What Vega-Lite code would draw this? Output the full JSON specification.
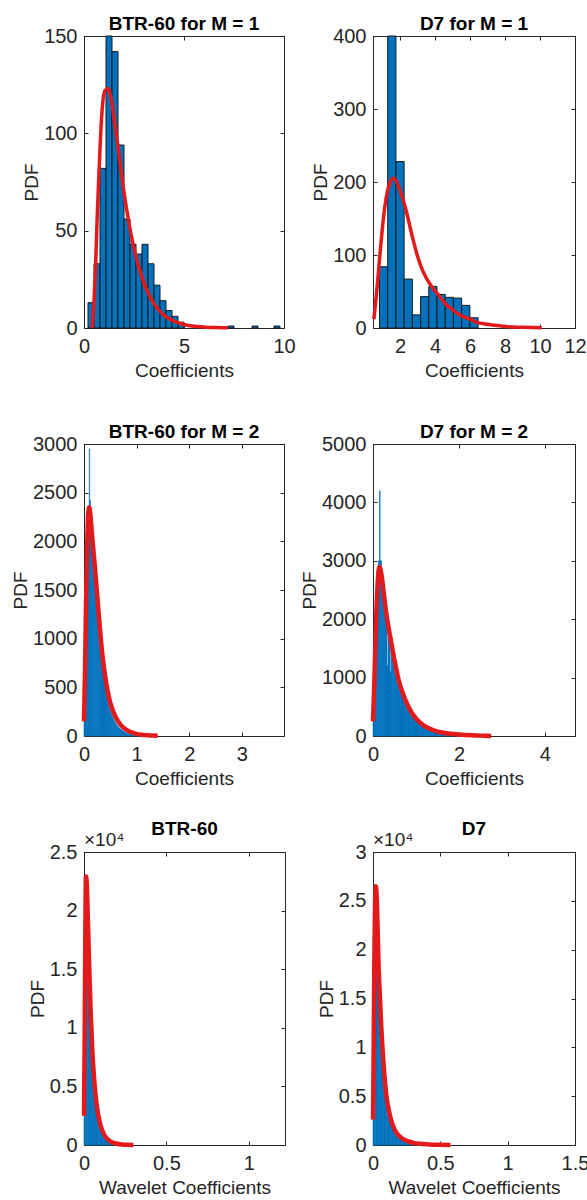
{
  "$schema": "https://vega.github.io/schema/vega-lite/v6.json",
  "background": "white",
  "padding": {"left": 11, "top": 14, "right": 5, "bottom": 0},
  "config": {
    "view": {"stroke": "#262626", "strokeWidth": 1},
    "axis": {
      "grid": false,
      "labelFont": "Liberation Sans",
      "labelFontSize": 20,
      "labelColor": "#262626",
      "titleFont": "Liberation Sans",
      "titleFontSize": 19,
      "titleFontWeight": "normal",
      "titleColor": "#262626",
      "domainColor": "#262626",
      "tickColor": "#262626",
      "tickSize": -4,
      "labelFlush": false,
      "labelOverlap": false
    },
    "axisX": {"labelPadding": 12, "titlePadding": 5},
    "axisY": {"labelPadding": 11, "titlePadding": 2},
    "title": {"font": "Liberation Sans", "fontSize": 19, "fontWeight": "bold", "color": "#000000", "offset": -8, "anchor": "middle"}
  },
  "columns": 2,
  "spacing": {"row": 116, "column": 88},
  "bounds": "flush",
  "datasets": {
    "h1": [
      {"x0": 0.2, "x1": 0.5, "pdf": 13}, {"x0": 0.5, "x1": 0.8, "pdf": 33}, {"x0": 0.8, "x1": 1.1, "pdf": 82},
      {"x0": 1.1, "x1": 1.4, "pdf": 150}, {"x0": 1.4, "x1": 1.7, "pdf": 142}, {"x0": 1.7, "x1": 2.0, "pdf": 94},
      {"x0": 2.0, "x1": 2.3, "pdf": 56}, {"x0": 2.3, "x1": 2.6, "pdf": 43}, {"x0": 2.6, "x1": 2.9, "pdf": 38},
      {"x0": 2.9, "x1": 3.2, "pdf": 43}, {"x0": 3.2, "x1": 3.5, "pdf": 33}, {"x0": 3.5, "x1": 3.8, "pdf": 22},
      {"x0": 3.8, "x1": 4.1, "pdf": 14}, {"x0": 4.1, "x1": 4.4, "pdf": 9}, {"x0": 4.4, "x1": 4.7, "pdf": 6},
      {"x0": 4.7, "x1": 5.0, "pdf": 3}, {"x0": 7.2, "x1": 7.5, "pdf": 1}, {"x0": 8.4, "x1": 8.7, "pdf": 1},
      {"x0": 9.5, "x1": 9.8, "pdf": 1}
    ],
    "c1": [
      {"x": 0.42, "pdf": 0}, {"x": 0.5, "pdf": 14}, {"x": 0.58, "pdf": 32}, {"x": 0.66, "pdf": 57}, {"x": 0.75, "pdf": 80},
      {"x": 0.85, "pdf": 103}, {"x": 0.95, "pdf": 117}, {"x": 1.05, "pdf": 122}, {"x": 1.2, "pdf": 123}, {"x": 1.35, "pdf": 118},
      {"x": 1.5, "pdf": 108}, {"x": 1.7, "pdf": 93}, {"x": 1.9, "pdf": 77}, {"x": 2.1, "pdf": 63}, {"x": 2.3, "pdf": 51},
      {"x": 2.5, "pdf": 41}, {"x": 2.75, "pdf": 31}, {"x": 3.0, "pdf": 23}, {"x": 3.25, "pdf": 17}, {"x": 3.5, "pdf": 12.5},
      {"x": 3.75, "pdf": 9}, {"x": 4.0, "pdf": 6.5}, {"x": 4.5, "pdf": 3.5}, {"x": 5.0, "pdf": 1.8}, {"x": 5.5, "pdf": 0.9},
      {"x": 6.0, "pdf": 0.5}, {"x": 6.5, "pdf": 0.2}, {"x": 7.2, "pdf": 0.1}
    ],
    "h2": [
      {"x0": 0.82, "x1": 1.29, "pdf": 84}, {"x0": 1.29, "x1": 1.76, "pdf": 400}, {"x0": 1.76, "x1": 2.23, "pdf": 228},
      {"x0": 2.23, "x1": 2.70, "pdf": 67}, {"x0": 2.70, "x1": 3.17, "pdf": 18}, {"x0": 3.17, "x1": 3.64, "pdf": 43},
      {"x0": 3.64, "x1": 4.11, "pdf": 57}, {"x0": 4.11, "x1": 4.58, "pdf": 46}, {"x0": 4.58, "x1": 5.05, "pdf": 42},
      {"x0": 5.05, "x1": 5.52, "pdf": 41}, {"x0": 5.52, "x1": 5.99, "pdf": 31}, {"x0": 5.99, "x1": 6.46, "pdf": 14}
    ],
    "c2": [
      {"x": 0.5, "pdf": 12}, {"x": 0.6, "pdf": 35}, {"x": 0.7, "pdf": 60}, {"x": 0.8, "pdf": 88}, {"x": 0.9, "pdf": 115},
      {"x": 1.0, "pdf": 140}, {"x": 1.2, "pdf": 178}, {"x": 1.4, "pdf": 198}, {"x": 1.6, "pdf": 205}, {"x": 1.8, "pdf": 200},
      {"x": 2.0, "pdf": 188}, {"x": 2.3, "pdf": 165}, {"x": 2.7, "pdf": 125}, {"x": 3.0, "pdf": 98}, {"x": 3.3, "pdf": 78},
      {"x": 3.8, "pdf": 57}, {"x": 4.1, "pdf": 48}, {"x": 4.6, "pdf": 33}, {"x": 5.0, "pdf": 25}, {"x": 5.4, "pdf": 18},
      {"x": 6.0, "pdf": 12}, {"x": 6.5, "pdf": 7}, {"x": 7.0, "pdf": 5}, {"x": 8.0, "pdf": 2}, {"x": 9.0, "pdf": 1}, {"x": 10.1, "pdf": 0.3}
    ],
    "h3": [
      {"x0": 0, "x1": 0.02, "pdf": 200}, {"x0": 0.02, "x1": 0.04, "pdf": 900}, {"x0": 0.04, "x1": 0.06, "pdf": 1500},
      {"x0": 0.06, "x1": 0.08, "pdf": 2000}, {"x0": 0.08, "x1": 0.1, "pdf": 2300}, {"x0": 0.1, "x1": 0.108, "pdf": 2950},
      {"x0": 0.108, "x1": 0.12, "pdf": 2420}, {"x0": 0.12, "x1": 0.14, "pdf": 2200}, {"x0": 0.14, "x1": 0.16, "pdf": 2050},
      {"x0": 0.16, "x1": 0.18, "pdf": 1900}, {"x0": 0.18, "x1": 0.2, "pdf": 1750}, {"x0": 0.2, "x1": 0.22, "pdf": 1600},
      {"x0": 0.22, "x1": 0.24, "pdf": 1450}, {"x0": 0.24, "x1": 0.26, "pdf": 1300}, {"x0": 0.26, "x1": 0.28, "pdf": 1160},
      {"x0": 0.28, "x1": 0.3, "pdf": 1030}, {"x0": 0.3, "x1": 0.32, "pdf": 910}, {"x0": 0.32, "x1": 0.34, "pdf": 800},
      {"x0": 0.34, "x1": 0.36, "pdf": 705}, {"x0": 0.36, "x1": 0.38, "pdf": 620}, {"x0": 0.38, "x1": 0.4, "pdf": 545},
      {"x0": 0.4, "x1": 0.42, "pdf": 480}, {"x0": 0.42, "x1": 0.44, "pdf": 420}, {"x0": 0.44, "x1": 0.46, "pdf": 368},
      {"x0": 0.46, "x1": 0.48, "pdf": 322}, {"x0": 0.48, "x1": 0.5, "pdf": 282}, {"x0": 0.5, "x1": 0.52, "pdf": 246},
      {"x0": 0.52, "x1": 0.54, "pdf": 215}, {"x0": 0.54, "x1": 0.56, "pdf": 188}, {"x0": 0.56, "x1": 0.58, "pdf": 164},
      {"x0": 0.58, "x1": 0.6, "pdf": 143}, {"x0": 0.6, "x1": 0.62, "pdf": 125}, {"x0": 0.62, "x1": 0.64, "pdf": 109},
      {"x0": 0.64, "x1": 0.66, "pdf": 95}, {"x0": 0.66, "x1": 0.68, "pdf": 83}, {"x0": 0.68, "x1": 0.7, "pdf": 72},
      {"x0": 0.7, "x1": 0.72, "pdf": 63}, {"x0": 0.72, "x1": 0.74, "pdf": 55}, {"x0": 0.74, "x1": 0.76, "pdf": 48},
      {"x0": 0.76, "x1": 0.78, "pdf": 42}, {"x0": 0.78, "x1": 0.8, "pdf": 36}, {"x0": 0.8, "x1": 0.85, "pdf": 28},
      {"x0": 0.85, "x1": 0.9, "pdf": 20}, {"x0": 0.9, "x1": 0.95, "pdf": 14}, {"x0": 0.95, "x1": 1.0, "pdf": 10},
      {"x0": 1.0, "x1": 1.1, "pdf": 6}, {"x0": 1.1, "x1": 1.2, "pdf": 3}
    ],
    "c3": [
      {"x": 0, "pdf": 150}, {"x": 0.02, "pdf": 700}, {"x": 0.04, "pdf": 1400}, {"x": 0.06, "pdf": 1950}, {"x": 0.08, "pdf": 2280},
      {"x": 0.1, "pdf": 2350}, {"x": 0.12, "pdf": 2280}, {"x": 0.15, "pdf": 2080}, {"x": 0.2, "pdf": 1780}, {"x": 0.25, "pdf": 1450},
      {"x": 0.3, "pdf": 1120}, {"x": 0.35, "pdf": 830}, {"x": 0.4, "pdf": 620}, {"x": 0.45, "pdf": 460}, {"x": 0.5, "pdf": 340},
      {"x": 0.6, "pdf": 195}, {"x": 0.7, "pdf": 112}, {"x": 0.8, "pdf": 65}, {"x": 0.9, "pdf": 38}, {"x": 1.0, "pdf": 22},
      {"x": 1.1, "pdf": 13}, {"x": 1.2, "pdf": 8}, {"x": 1.3, "pdf": 4}, {"x": 1.4, "pdf": 2}
    ],
    "h4": [
      {"x0": 0, "x1": 0.025, "pdf": 300}, {"x0": 0.025, "x1": 0.05, "pdf": 900}, {"x0": 0.05, "x1": 0.075, "pdf": 1600},
      {"x0": 0.075, "x1": 0.1, "pdf": 2200}, {"x0": 0.1, "x1": 0.125, "pdf": 2700}, {"x0": 0.125, "x1": 0.15, "pdf": 3000},
      {"x0": 0.15, "x1": 0.165, "pdf": 4200}, {"x0": 0.165, "x1": 0.2, "pdf": 3000}, {"x0": 0.2, "x1": 0.225, "pdf": 2800},
      {"x0": 0.225, "x1": 0.25, "pdf": 2600}, {"x0": 0.25, "x1": 0.275, "pdf": 2400}, {"x0": 0.275, "x1": 0.3, "pdf": 2200},
      {"x0": 0.3, "x1": 0.325, "pdf": 2000}, {"x0": 0.325, "x1": 0.35, "pdf": 1200}, {"x0": 0.35, "x1": 0.375, "pdf": 1800},
      {"x0": 0.375, "x1": 0.4, "pdf": 1650}, {"x0": 0.4, "x1": 0.425, "pdf": 1100}, {"x0": 0.425, "x1": 0.45, "pdf": 1400},
      {"x0": 0.45, "x1": 0.475, "pdf": 1300}, {"x0": 0.475, "x1": 0.5, "pdf": 1180}, {"x0": 0.5, "x1": 0.55, "pdf": 1050},
      {"x0": 0.55, "x1": 0.6, "pdf": 900}, {"x0": 0.6, "x1": 0.65, "pdf": 790}, {"x0": 0.65, "x1": 0.7, "pdf": 690},
      {"x0": 0.7, "x1": 0.75, "pdf": 600}, {"x0": 0.75, "x1": 0.8, "pdf": 520}, {"x0": 0.8, "x1": 0.85, "pdf": 450},
      {"x0": 0.85, "x1": 0.9, "pdf": 390}, {"x0": 0.9, "x1": 0.95, "pdf": 335}, {"x0": 0.95, "x1": 1.0, "pdf": 290},
      {"x0": 1.0, "x1": 1.05, "pdf": 250}, {"x0": 1.05, "x1": 1.1, "pdf": 215}, {"x0": 1.1, "x1": 1.15, "pdf": 185},
      {"x0": 1.15, "x1": 1.2, "pdf": 160}, {"x0": 1.2, "x1": 1.25, "pdf": 135}, {"x0": 1.25, "x1": 1.3, "pdf": 115},
      {"x0": 1.3, "x1": 1.35, "pdf": 95}, {"x0": 1.35, "x1": 1.4, "pdf": 80}, {"x0": 1.4, "x1": 1.5, "pdf": 60},
      {"x0": 1.5, "x1": 1.6, "pdf": 45}, {"x0": 1.6, "x1": 1.7, "pdf": 33}, {"x0": 1.7, "x1": 1.8, "pdf": 24},
      {"x0": 1.8, "x1": 2.0, "pdf": 15}
    ],
    "c4": [
      {"x": 0, "pdf": 250}, {"x": 0.03, "pdf": 900}, {"x": 0.06, "pdf": 1700}, {"x": 0.1, "pdf": 2500}, {"x": 0.15, "pdf": 2900},
      {"x": 0.2, "pdf": 2750}, {"x": 0.25, "pdf": 2450}, {"x": 0.3, "pdf": 2150}, {"x": 0.4, "pdf": 1700}, {"x": 0.5, "pdf": 1300},
      {"x": 0.6, "pdf": 950}, {"x": 0.7, "pdf": 720}, {"x": 0.8, "pdf": 540}, {"x": 0.9, "pdf": 400}, {"x": 1.0, "pdf": 300},
      {"x": 1.2, "pdf": 170}, {"x": 1.4, "pdf": 100}, {"x": 1.6, "pdf": 60}, {"x": 1.8, "pdf": 38}, {"x": 2.0, "pdf": 25},
      {"x": 2.3, "pdf": 12}, {"x": 2.6, "pdf": 5}, {"x": 2.75, "pdf": 2}
    ],
    "h5": [
      {"x0": 0, "x1": 0.01, "pdf": 14000}, {"x0": 0.01, "x1": 0.02, "pdf": 21000}, {"x0": 0.02, "x1": 0.03, "pdf": 17500},
      {"x0": 0.03, "x1": 0.04, "pdf": 13000}, {"x0": 0.04, "x1": 0.05, "pdf": 9300}, {"x0": 0.05, "x1": 0.06, "pdf": 6700},
      {"x0": 0.06, "x1": 0.07, "pdf": 4800}, {"x0": 0.07, "x1": 0.08, "pdf": 3500}, {"x0": 0.08, "x1": 0.09, "pdf": 2600},
      {"x0": 0.09, "x1": 0.1, "pdf": 1900}, {"x0": 0.1, "x1": 0.11, "pdf": 1400}, {"x0": 0.11, "x1": 0.12, "pdf": 1050},
      {"x0": 0.12, "x1": 0.13, "pdf": 780}, {"x0": 0.13, "x1": 0.14, "pdf": 580}, {"x0": 0.14, "x1": 0.15, "pdf": 430},
      {"x0": 0.15, "x1": 0.16, "pdf": 320}, {"x0": 0.16, "x1": 0.17, "pdf": 240}, {"x0": 0.17, "x1": 0.18, "pdf": 180},
      {"x0": 0.18, "x1": 0.2, "pdf": 120}, {"x0": 0.2, "x1": 0.22, "pdf": 70}, {"x0": 0.22, "x1": 0.25, "pdf": 35}
    ],
    "c5": [
      {"x": 0, "pdf": 2500}, {"x": 0.004, "pdf": 9000}, {"x": 0.008, "pdf": 18000}, {"x": 0.012, "pdf": 22900}, {"x": 0.016, "pdf": 22500},
      {"x": 0.02, "pdf": 21000}, {"x": 0.025, "pdf": 18500}, {"x": 0.03, "pdf": 16000}, {"x": 0.04, "pdf": 11500}, {"x": 0.05, "pdf": 8200},
      {"x": 0.06, "pdf": 5900}, {"x": 0.07, "pdf": 4300}, {"x": 0.08, "pdf": 3100}, {"x": 0.09, "pdf": 2300}, {"x": 0.1, "pdf": 1700},
      {"x": 0.12, "pdf": 950}, {"x": 0.14, "pdf": 540}, {"x": 0.16, "pdf": 310}, {"x": 0.18, "pdf": 180}, {"x": 0.2, "pdf": 105},
      {"x": 0.23, "pdf": 45}, {"x": 0.26, "pdf": 18}, {"x": 0.29, "pdf": 6}, {"x": 0.3, "pdf": 4}
    ],
    "h6": [
      {"x0": 0, "x1": 0.01, "pdf": 12000}, {"x0": 0.01, "x1": 0.02, "pdf": 23000}, {"x0": 0.02, "x1": 0.03, "pdf": 24500},
      {"x0": 0.03, "x1": 0.04, "pdf": 21500}, {"x0": 0.04, "x1": 0.05, "pdf": 17500}, {"x0": 0.05, "x1": 0.06, "pdf": 14000},
      {"x0": 0.06, "x1": 0.07, "pdf": 11200}, {"x0": 0.07, "x1": 0.08, "pdf": 9000}, {"x0": 0.08, "x1": 0.09, "pdf": 7200},
      {"x0": 0.09, "x1": 0.1, "pdf": 5800}, {"x0": 0.1, "x1": 0.11, "pdf": 4700}, {"x0": 0.11, "x1": 0.12, "pdf": 3800},
      {"x0": 0.12, "x1": 0.13, "pdf": 3100}, {"x0": 0.13, "x1": 0.14, "pdf": 2500}, {"x0": 0.14, "x1": 0.15, "pdf": 2050},
      {"x0": 0.15, "x1": 0.16, "pdf": 1700}, {"x0": 0.16, "x1": 0.17, "pdf": 1400}, {"x0": 0.17, "x1": 0.18, "pdf": 1150},
      {"x0": 0.18, "x1": 0.19, "pdf": 950}, {"x0": 0.19, "x1": 0.2, "pdf": 800}, {"x0": 0.2, "x1": 0.22, "pdf": 600},
      {"x0": 0.22, "x1": 0.24, "pdf": 430}, {"x0": 0.24, "x1": 0.26, "pdf": 310}, {"x0": 0.26, "x1": 0.28, "pdf": 220},
      {"x0": 0.28, "x1": 0.3, "pdf": 160}, {"x0": 0.3, "x1": 0.35, "pdf": 90}, {"x0": 0.35, "x1": 0.4, "pdf": 45}
    ],
    "c6": [
      {"x": 0, "pdf": 2600}, {"x": 0.005, "pdf": 10000}, {"x": 0.01, "pdf": 19000}, {"x": 0.015, "pdf": 24500}, {"x": 0.02, "pdf": 26500},
      {"x": 0.025, "pdf": 26000}, {"x": 0.03, "pdf": 24500}, {"x": 0.04, "pdf": 19000}, {"x": 0.05, "pdf": 15500}, {"x": 0.06, "pdf": 12500},
      {"x": 0.07, "pdf": 10000}, {"x": 0.08, "pdf": 8000}, {"x": 0.1, "pdf": 5000}, {"x": 0.12, "pdf": 3400}, {"x": 0.14, "pdf": 2300},
      {"x": 0.16, "pdf": 1600}, {"x": 0.18, "pdf": 1150}, {"x": 0.2, "pdf": 850}, {"x": 0.25, "pdf": 420}, {"x": 0.3, "pdf": 220},
      {"x": 0.35, "pdf": 120}, {"x": 0.4, "pdf": 65}, {"x": 0.45, "pdf": 35}, {"x": 0.5, "pdf": 15}, {"x": 0.575, "pdf": 3}
    ],
    "exp": [{"label": "×10⁴"}]
  },
  "concat": [
    {
      "width": 200, "height": 292,
      "title": "BTR-60 for M = 1",
      "layer": [
        {"data": {"name": "h1"}, "mark": {"type": "bar", "fill": "#0072BD", "stroke": "#1a1a1a", "strokeWidth": 1},
         "encoding": {
           "x": {"field": "x0", "type": "quantitative", "title": "Coefficients", "scale": {"domain": [0, 10], "nice": false, "zero": false}, "axis": {"values": [0, 5, 10]}},
           "x2": {"field": "x1"},
           "y": {"field": "pdf", "type": "quantitative", "title": "PDF", "scale": {"domain": [0, 150], "nice": false}, "axis": {"values": [0, 50, 100, 150]}},
           "y2": {"datum": 0}}},
        {"data": {"name": "c1"}, "mark": {"type": "line", "color": "#e31a1c", "strokeWidth": 3.5, "interpolate": "monotone"},
         "encoding": {
           "x": {"field": "x", "type": "quantitative", "axis": {"orient": "top", "labels": false, "domain": false, "title": null, "values": [0, 5, 10]}},
           "y": {"field": "pdf", "type": "quantitative", "axis": {"orient": "right", "labels": false, "domain": false, "title": null, "values": [0, 50, 100, 150]}}}}
      ],
      "resolve": {"axis": {"x": "independent", "y": "independent"}}
    },
    {
      "width": 202, "height": 292,
      "title": "D7 for M = 1",
      "layer": [
        {"data": {"name": "h2"}, "mark": {"type": "bar", "fill": "#0072BD", "stroke": "#1a1a1a", "strokeWidth": 1},
         "encoding": {
           "x": {"field": "x0", "type": "quantitative", "title": "Coefficients", "scale": {"domain": [0.45, 12], "nice": false, "zero": false}, "axis": {"values": [2, 4, 6, 8, 10, 12]}},
           "x2": {"field": "x1"},
           "y": {"field": "pdf", "type": "quantitative", "title": "PDF", "scale": {"domain": [0, 400], "nice": false}, "axis": {"values": [0, 100, 200, 300, 400]}},
           "y2": {"datum": 0}}},
        {"data": {"name": "c2"}, "mark": {"type": "line", "color": "#e31a1c", "strokeWidth": 3.5, "interpolate": "monotone"},
         "encoding": {
           "x": {"field": "x", "type": "quantitative", "axis": {"orient": "top", "labels": false, "domain": false, "title": null, "values": [2, 4, 6, 8, 10, 12]}},
           "y": {"field": "pdf", "type": "quantitative", "axis": {"orient": "right", "labels": false, "domain": false, "title": null, "values": [0, 100, 200, 300, 400]}}}}
      ],
      "resolve": {"axis": {"x": "independent", "y": "independent"}}
    },
    {
      "width": 200, "height": 292,
      "title": "BTR-60 for M = 2",
      "layer": [
        {"data": {"name": "h3"}, "mark": {"type": "bar", "fill": "#0072BD", "stroke": "#0072BD", "strokeWidth": 0.6},
         "encoding": {
           "x": {"field": "x0", "type": "quantitative", "title": "Coefficients", "scale": {"domain": [0, 3.8], "nice": false, "zero": false}, "axis": {"values": [0, 1, 2, 3]}},
           "x2": {"field": "x1"},
           "y": {"field": "pdf", "type": "quantitative", "title": "PDF", "scale": {"domain": [0, 3000], "nice": false}, "axis": {"values": [0, 500, 1000, 1500, 2000, 2500, 3000], "format": "d"}},
           "y2": {"datum": 0}}},
        {"data": {"name": "c3"}, "mark": {"type": "line", "color": "#e31a1c", "strokeWidth": 4.5, "interpolate": "monotone"},
         "encoding": {
           "x": {"field": "x", "type": "quantitative", "axis": {"orient": "top", "labels": false, "domain": false, "title": null, "values": [0, 1, 2, 3]}},
           "y": {"field": "pdf", "type": "quantitative", "axis": {"orient": "right", "labels": false, "domain": false, "title": null, "values": [0, 500, 1000, 1500, 2000, 2500, 3000]}}}}
      ],
      "resolve": {"axis": {"x": "independent", "y": "independent"}}
    },
    {
      "width": 202, "height": 292,
      "title": "D7 for M = 2",
      "layer": [
        {"data": {"name": "h4"}, "mark": {"type": "bar", "fill": "#0072BD", "stroke": "#0072BD", "strokeWidth": 0.6},
         "encoding": {
           "x": {"field": "x0", "type": "quantitative", "title": "Coefficients", "scale": {"domain": [0, 4.7], "nice": false, "zero": false}, "axis": {"values": [0, 2, 4]}},
           "x2": {"field": "x1"},
           "y": {"field": "pdf", "type": "quantitative", "title": "PDF", "scale": {"domain": [0, 5000], "nice": false}, "axis": {"values": [0, 1000, 2000, 3000, 4000, 5000], "format": "d"}},
           "y2": {"datum": 0}}},
        {"data": {"name": "c4"}, "mark": {"type": "line", "color": "#e31a1c", "strokeWidth": 4.5, "interpolate": "monotone"},
         "encoding": {
           "x": {"field": "x", "type": "quantitative", "axis": {"orient": "top", "labels": false, "domain": false, "title": null, "values": [0, 2, 4]}},
           "y": {"field": "pdf", "type": "quantitative", "axis": {"orient": "right", "labels": false, "domain": false, "title": null, "values": [0, 1000, 2000, 3000, 4000, 5000]}}}}
      ],
      "resolve": {"axis": {"x": "independent", "y": "independent"}}
    },
    {
      "width": 201, "height": 293,
      "title": "BTR-60",
      "layer": [
        {"data": {"name": "h5"}, "mark": {"type": "bar", "fill": "#0072BD", "stroke": "#0072BD", "strokeWidth": 0.6},
         "encoding": {
           "x": {"field": "x0", "type": "quantitative", "title": "Wavelet Coefficients", "scale": {"domain": [0, 1.22], "nice": false, "zero": false}, "axis": {"values": [0, 0.5, 1], "labelExpr": "datum.value"}},
           "x2": {"field": "x1"},
           "y": {"field": "pdf", "type": "quantitative", "title": "PDF", "scale": {"domain": [0, 25000], "nice": false}, "axis": {"values": [0, 5000, 10000, 15000, 20000, 25000], "labelExpr": "datum.value / 10000"}},
           "y2": {"datum": 0}}},
        {"data": {"name": "c5"}, "mark": {"type": "line", "color": "#e31a1c", "strokeWidth": 4.5, "interpolate": "monotone"},
         "encoding": {
           "x": {"field": "x", "type": "quantitative", "axis": {"orient": "top", "labels": false, "domain": false, "title": null, "values": [0, 0.5, 1]}},
           "y": {"field": "pdf", "type": "quantitative", "axis": {"orient": "right", "labels": false, "domain": false, "title": null, "values": [0, 5000, 10000, 15000, 20000, 25000]}}}},
        {"data": {"name": "exp"}, "mark": {"type": "text", "align": "left", "baseline": "bottom", "dy": -2, "font": "Liberation Sans", "fontSize": 19, "color": "#262626"},
         "encoding": {"x": {"datum": 0, "type": "quantitative", "axis": null}, "y": {"datum": 25000, "type": "quantitative", "axis": null}, "text": {"field": "label"}}}
      ],
      "resolve": {"axis": {"x": "independent", "y": "independent"}}
    },
    {
      "width": 202, "height": 293,
      "title": "D7",
      "layer": [
        {"data": {"name": "h6"}, "mark": {"type": "bar", "fill": "#0072BD", "stroke": "#0072BD", "strokeWidth": 0.6},
         "encoding": {
           "x": {"field": "x0", "type": "quantitative", "title": "Wavelet Coefficients", "scale": {"domain": [0, 1.5], "nice": false, "zero": false}, "axis": {"values": [0, 0.5, 1, 1.5], "labelExpr": "datum.value"}},
           "x2": {"field": "x1"},
           "y": {"field": "pdf", "type": "quantitative", "title": "PDF", "scale": {"domain": [0, 30000], "nice": false}, "axis": {"values": [0, 5000, 10000, 15000, 20000, 25000, 30000], "labelExpr": "datum.value / 10000"}},
           "y2": {"datum": 0}}},
        {"data": {"name": "c6"}, "mark": {"type": "line", "color": "#e31a1c", "strokeWidth": 4.5, "interpolate": "monotone"},
         "encoding": {
           "x": {"field": "x", "type": "quantitative", "axis": {"orient": "top", "labels": false, "domain": false, "title": null, "values": [0, 0.5, 1, 1.5]}},
           "y": {"field": "pdf", "type": "quantitative", "axis": {"orient": "right", "labels": false, "domain": false, "title": null, "values": [0, 5000, 10000, 15000, 20000, 25000, 30000]}}}},
        {"data": {"name": "exp"}, "mark": {"type": "text", "align": "left", "baseline": "bottom", "dy": -2, "font": "Liberation Sans", "fontSize": 19, "color": "#262626"},
         "encoding": {"x": {"datum": 0, "type": "quantitative", "axis": null}, "y": {"datum": 30000, "type": "quantitative", "axis": null}, "text": {"field": "label"}}}
      ],
      "resolve": {"axis": {"x": "independent", "y": "independent"}}
    }
  ]
}
